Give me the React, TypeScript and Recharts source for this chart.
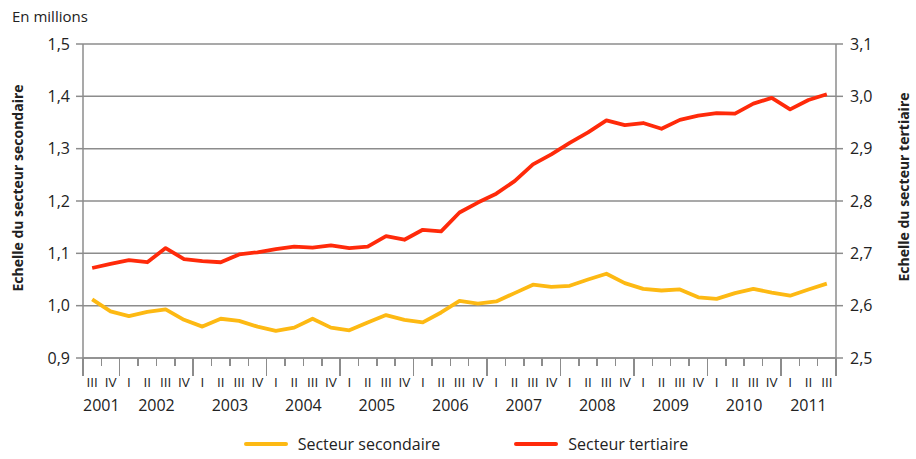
import { LineChart, Line, XAxis, YAxis, CartesianGrid, Legend } from 'recharts';

const categories = [
  '2001 III', '2001 IV',
  '2002 I', '2002 II', '2002 III', '2002 IV',
  '2003 I', '2003 II', '2003 III', '2003 IV',
  '2004 I', '2004 II', '2004 III', '2004 IV',
  '2005 I', '2005 II', '2005 III', '2005 IV',
  '2006 I', '2006 II', '2006 III', '2006 IV',
  '2007 I', '2007 II', '2007 III', '2007 IV',
  '2008 I', '2008 II', '2008 III', '2008 IV',
  '2009 I', '2009 II', '2009 III', '2009 IV',
  '2010 I', '2010 II', '2010 III', '2010 IV',
  '2011 I', '2011 II', '2011 III',
];

const secondaire = [
  1.012, 0.989, 0.98, 0.988, 0.993, 0.973, 0.96, 0.975, 0.971, 0.96,
  0.952, 0.958, 0.975, 0.958, 0.953, 0.968, 0.982, 0.973, 0.968, 0.987,
  1.009, 1.004, 1.008, 1.024, 1.04, 1.036, 1.038, 1.05, 1.061, 1.043,
  1.032, 1.029, 1.031, 1.016, 1.013, 1.024, 1.032, 1.025, 1.019, 1.031,
  1.042,
];

const tertiaire = [
  2.672, 2.68, 2.687, 2.683, 2.71, 2.689, 2.685, 2.683, 2.698, 2.702,
  2.708, 2.713, 2.711, 2.715, 2.71, 2.713, 2.733, 2.726, 2.745, 2.742,
  2.778, 2.797, 2.814, 2.838, 2.87, 2.889, 2.911, 2.931, 2.954, 2.945,
  2.949, 2.938, 2.955, 2.963, 2.968, 2.967, 2.986, 2.997, 2.975, 2.993,
  3.004,
];

const leftTicks = [0.9, 1.0, 1.1, 1.2, 1.3, 1.4, 1.5];
const rightTicks = [2.5, 2.6, 2.7, 2.8, 2.9, 3.0, 3.1];

const data = categories.map((c, i) => ({
  period: c,
  secondaire: secondaire[i],
  tertiaire: tertiaire[i],
}));

const FONT = '"Open Sans", sans-serif';
const GRAY = '#8c8c8c';
const YELLOW = '#FDB913';
const RED = '#FF2A0A';
const W = 916;
const H = 459;
const TOP = 44;
const PLOT_H = 314;
const LEFT_W = 83;
const RIGHT_W = 80;
const BAND = (W - LEFT_W - RIGHT_W) / categories.length;

const fmt = (v: number) => v.toFixed(1).replace('.', ',');

// roman numeral + year under each quarter
const QuarterTick = (props: any) => {
  const { payload, index } = props;
  const x = Number(props.x);
  const y = Number(props.y);
  const [year, q] = String(payload.value).split(' ');
  const first = categories.findIndex((c) => c.startsWith(year));
  let last = first;
  categories.forEach((c, k) => {
    if (c.startsWith(year)) last = k;
  });
  return (
    <g>
      <text x={x} y={y + 29} textAnchor="middle" fontSize={13.5} fill="#222" fontFamily={FONT}>
        {q}
      </text>
      {index === first && (
        <text
          x={x + ((first + last) / 2 - index) * BAND}
          y={y + 53}
          textAnchor="middle"
          fontSize={16}
          fill="#222"
          fontFamily={FONT}
        >
          {year}
        </text>
      )}
    </g>
  );
};

// separators between quarters, longer between years
const boundaries = [...categories.map((c) => c.split(' ')[1] === 'I'), true].map((yearStart, k) => ({
  k,
  long: yearStart || k === 0,
}));

const LegendContent = () => (
  <div
    style={{
      display: 'flex',
      justifyContent: 'center',
      alignItems: 'center',
      paddingLeft: 16,
      paddingTop: 4,
      fontFamily: FONT,
      fontSize: 16,
      color: '#222',
    }}
  >
    <span style={{ display: 'inline-block', width: 44, height: 4, background: YELLOW, borderRadius: 2, marginRight: 10 }} />
    <span style={{ marginRight: 74 }}>Secteur secondaire</span>
    <span style={{ display: 'inline-block', width: 44, height: 4, background: RED, borderRadius: 2, marginRight: 10 }} />
    <span>Secteur tertiaire</span>
  </div>
);

export default function App() {
  return (
    <div style={{ position: 'absolute', left: 0, top: 0, width: W, height: H, background: '#fff' }}>
      <div
        style={{
          position: 'absolute',
          left: 12,
          top: 6,
          fontFamily: FONT,
          fontSize: 15,
          color: '#222',
        }}
      >
        En millions
      </div>
      <LineChart width={W} height={H} data={data} margin={{ top: TOP, right: 0, bottom: 0, left: 0 }}>
        <CartesianGrid yAxisId="left" vertical={false} stroke={GRAY} strokeWidth={1.5} />
        <XAxis
          dataKey="period"
          interval={0}
          height={71}
          padding={{ left: BAND / 2, right: BAND / 2 }}
          tickLine={false}
          tickSize={0}
          tickMargin={0}
          axisLine={{ stroke: GRAY, strokeWidth: 1.5 }}
          tick={(p: any) => <QuarterTick {...p} />}
        />
        <YAxis
          yAxisId="left"
          width={LEFT_W}
          domain={[0.9, 1.5]}
          ticks={leftTicks}
          tickFormatter={fmt}
          tickSize={7}
          tickMargin={6}
          axisLine={{ stroke: GRAY, strokeWidth: 1.5 }}
          tickLine={{ stroke: GRAY, strokeWidth: 1.5 }}
          tick={{ fill: '#222', fontSize: 16, fontFamily: FONT }}
          allowDataOverflow
          label={{
            content: () => (
              <text
                x={19}
                y={188}
                transform="rotate(-90 19 188)"
                textAnchor="middle"
                dominantBaseline="middle"
                fontSize={14}
                fontWeight="bold"
                fill="#222"
                fontFamily={FONT}
              >
                Echelle du secteur secondaire
              </text>
            ),
          }}
        />
        <YAxis
          yAxisId="right"
          orientation="right"
          width={RIGHT_W}
          domain={[2.5, 3.1]}
          ticks={rightTicks}
          tickFormatter={fmt}
          tickSize={7}
          tickMargin={7}
          axisLine={{ stroke: GRAY, strokeWidth: 1.5 }}
          tickLine={{ stroke: GRAY, strokeWidth: 1.5 }}
          tick={{ fill: '#222', fontSize: 16, fontFamily: FONT }}
          allowDataOverflow
          label={{
            content: () => (
              <text
                x={905}
                y={187}
                transform="rotate(-90 905 187)"
                textAnchor="middle"
                dominantBaseline="middle"
                fontSize={14}
                fontWeight="bold"
                fill="#222"
                fontFamily={FONT}
              >
                Echelle du secteur tertiaire
              </text>
            ),
          }}
        />
        <Legend verticalAlign="bottom" height={30} content={<LegendContent />} />
        <Line
          yAxisId="left"
          dataKey="secondaire"
          name="Secteur secondaire"
          stroke={YELLOW}
          strokeWidth={3.8}
          dot={false}
          strokeLinejoin="round"
          isAnimationActive={false}
        />
        <Line
          yAxisId="right"
          dataKey="tertiaire"
          name="Secteur tertiaire"
          stroke={RED}
          strokeWidth={3.8}
          dot={false}
          strokeLinejoin="round"
          isAnimationActive={false}
        />
      </LineChart>
      {boundaries.map((b) => (
        <div
          key={b.k}
          style={{
            position: 'absolute',
            left: LEFT_W + b.k * BAND - 0.75,
            top: TOP + PLOT_H,
            width: 1.5,
            height: b.long ? 18 : 8,
            background: GRAY,
          }}
        />
      ))}
    </div>
  );
}
